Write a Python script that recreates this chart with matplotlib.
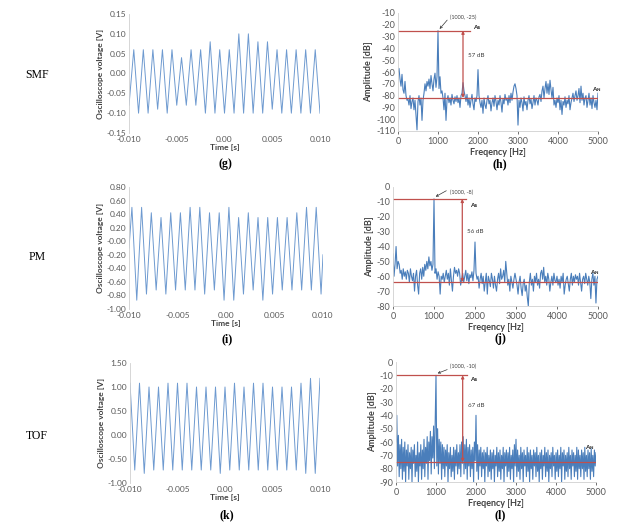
import matplotlib
matplotlib.use("Agg")
import matplotlib.pyplot as plt
import numpy as np

plt.rcParams["axes.unicode_minus"] = False

# ---- time-domain signals: peak / trough values per cycle (V) ----
g_start, g_end = -0.08, -0.10
g_peaks = [0.06, 0.06, 0.06, 0.06, 0.06, 0.04, 0.06, 0.06, 0.08, 0.06,
           0.06, 0.10, 0.10, 0.08, 0.08, 0.06, 0.06, 0.06, 0.06, 0.06]
g_troughs = [-0.10, -0.10, -0.09, -0.10, -0.08, -0.08, -0.08, -0.10, -0.10, -0.10,
             -0.10, -0.10, -0.10, -0.10, -0.09, -0.10, -0.10, -0.10, -0.10]

i_start, i_end = -0.10, -0.20
i_peaks = [0.50, 0.50, 0.42, 0.35, 0.42, 0.42, 0.50, 0.50, 0.42, 0.42,
           0.50, 0.35, 0.42, 0.35, 0.35, 0.35, 0.35, 0.42, 0.50, 0.50]
i_troughs = [-0.87, -0.78, -0.72, -0.78, -0.72, -0.72, -0.72, -0.78, -0.72, -0.87,
             -0.87, -0.78, -0.72, -0.87, -0.78, -0.72, -0.72, -0.72, -0.72, -0.78]

k_peaks = [1.08, 1.08, 1.00, 1.00, 1.08, 1.08, 1.08, 1.00, 1.00, 1.00, 1.00,
           1.08, 1.00, 1.08, 1.08, 1.00, 1.00, 1.00, 1.08, 1.18, 1.18]
k_troughs = [-0.73, -0.80, -0.73, -0.73, -0.73, -0.73, -0.73, -0.73, -0.73, -0.80,
             -0.73, -0.73, -0.73, -0.73, -0.73, -0.73, -0.73, -0.73, -0.80, -0.80]

# ---- spectra (dB) ----
h_db = [-60, -57, -66, -72, -62, -75, -78, -68, -80, -84,
        -83, -88, -80, -91, -85, -82, -92, -84, -96, -109,
        -85, -80, -88, -82, -101, -84, -78, -70, -76, -68,
        -72, -66, -74, -63, -70, -76, -66, -61, -73, -64,
        -25, -74, -64, -78, -76, -82, -92, -78, -101, -84,
        -80, -86, -82, -88, -79, -84, -87, -81, -85, -80,
        -86, -82, -90, -80, -78, -69, -76, -80, -85, -79,
        -88, -82, -90, -84, -79, -87, -92, -82, -85, -80,
        -58, -80, -86, -90, -84, -95, -82, -88, -91, -84,
        -80, -87, -84, -93, -86, -82, -89, -80, -85, -92,
        -84, -88, -80, -86, -94, -83, -87, -79, -84, -82,
        -88, -80, -86, -78, -84, -77, -72, -70, -74, -80,
        -105, -84, -90, -82, -86, -93, -81, -88, -85, -92,
        -84, -80, -87, -83, -91, -86, -80, -88, -82, -84,
        -88, -81, -79, -85, -76, -72, -82, -74, -68, -78,
        -70, -79, -67, -75, -82, -73, -88, -84, -90, -82,
        -86, -80, -92, -84, -96, -85, -88, -81, -90, -84,
        -87, -80, -92, -86, -82, -78, -85, -80, -76, -84,
        -80, -74, -86, -72, -84, -78, -88, -82, -80, -90,
        -84, -78, -88, -82, -91, -80, -86, -90, -84, -92,
        -78]

j_db = [-45, -60, -52, -40, -55, -50, -52, -58, -56, -62,
        -55, -60, -57, -62, -56, -58, -64, -55, -60, -63,
        -58, -70, -60, -56, -66, -72, -58, -55, -62, -54,
        -60, -52, -56, -50, -55, -47, -53, -50, -56, -52,
        -8, -58, -55, -62, -57, -60, -72, -60, -62, -58,
        -64, -60, -56, -62, -58, -66, -55, -63, -70, -60,
        -54, -58, -56, -60, -55, -58, -66, -62, -58, -64,
        -60, -56, -63, -58, -65, -59, -61, -57, -63, -56,
        -37, -58, -62, -60, -68, -62, -58, -65, -60, -70,
        -64, -58, -72, -60, -63, -67, -58, -62, -68, -60,
        -66, -70, -62, -58, -65, -55, -62, -60, -56, -64,
        -50, -58, -66, -62, -70, -60, -64, -68, -62, -58,
        -62, -66, -72, -64, -60, -68, -73, -65, -62, -70,
        -66, -74, -80, -64, -58, -66, -62, -70, -60, -64,
        -58, -66, -62, -68, -58, -56, -62, -54, -64, -60,
        -66, -58, -62, -70, -64, -60, -66, -58, -63, -64,
        -60, -66, -62, -68, -60, -64, -58, -72, -66, -62,
        -60, -65, -70, -62, -58, -66, -60, -64, -59, -62,
        -60, -66, -58, -64, -70, -62, -60, -65, -58, -62,
        -66, -60, -64, -75, -62, -58, -66, -60, -78, -62,
        -60]

l_db = [-60, -40, -78, -55, -86, -62, -80, -58, -88, -64,
        -82, -60, -90, -66, -78, -62, -88, -68, -80, -64,
        -90, -66, -76, -62, -86, -70, -82, -60, -90, -68,
        -78, -62, -88, -66, -80, -58, -86, -64, -76, -56,
        -88, -60, -74, -52, -84, -56, -72, -48, -80, -45,
        -10, -78, -50, -84, -58, -76, -60, -88, -62, -80,
        -64, -86, -66, -78, -62, -90, -68, -80, -64, -86,
        -70, -82, -64, -88, -66, -78, -62, -84, -68, -80,
        -62, -86, -60, -76, -56, -84, -62, -80, -58, -88,
        -64, -78, -62, -86, -66, -80, -64, -90, -60, -74,
        -40, -82, -62, -88, -66, -78, -64, -86, -68, -80,
        -66, -90, -68, -78, -64, -86, -70, -82, -66, -88,
        -68, -80, -66, -90, -70, -78, -64, -86, -68, -82,
        -66, -88, -70, -80, -64, -90, -68, -78, -66, -86,
        -68, -82, -64, -88, -70, -80, -66, -90, -62, -78,
        -58, -86, -66, -82, -70, -88, -64, -80, -68, -90,
        -66, -78, -70, -86, -64, -82, -68, -90, -66, -80,
        -70, -88, -66, -78, -68, -86, -64, -82, -70, -90,
        -68, -80, -66, -88, -70, -78, -64, -86, -68, -82,
        -66, -90, -70, -80, -68, -86, -64, -78, -70, -88,
        -68, -82, -66, -86, -70, -80, -64, -90, -68, -78,
        -66, -88, -70, -82, -68, -86, -64, -80, -70, -88,
        -66, -78, -68, -86, -70, -82, -64, -88, -66, -80,
        -70, -86, -66, -80, -68, -88, -64, -82, -70, -86,
        -66, -80, -68, -88, -65, -82, -70, -86, -66, -78,
        -68]

# marker levels: (peak freq, peak dB, noise dB, diff label)
h_mark = (1000, -25, -82, "57 dB")
j_mark = (1000, -8, -64, "56 dB")
l_mark = (1000, -10, -75, "67 dB")

time_ticks = [-0.010, -0.005, 0.0, 0.005, 0.010]
time_ticklabels = ["-0.010", "-0.005", "0.00", "0.005", "0.010"]
freq_ticks = [0, 1000, 2000, 3000, 4000, 5000]
row_names = ["SMF", "PM", "TOF"]

LINE_T = "#6E9AD0"
LINE_F = "#4A7EBB"
RED = "#C0504D"
TXT = "#595959"
GRID = "#D0D0D0"
FONT = "Lato"


def build_wave(t0, peaks, troughs, start=None, end=None):
    vals = []
    for n, p in enumerate(peaks):
        vals.append(p)
        if n < len(troughs):
            vals.append(troughs[n])
    t = t0 + 0.0005 * np.arange(len(vals))
    if start is not None:
        t = np.concatenate([[-0.010], t])
        vals = [start] + vals
    if end is not None:
        t = np.concatenate([t, [0.010]])
        vals = vals + [end]
    return t, np.array(vals)


def style_time(ax, ylim, yticks, yfmt):
    ax.set_xlim(-0.010, 0.010)
    ax.set_ylim(*ylim)
    ax.set_xticks(time_ticks)
    ax.set_xticklabels(time_ticklabels)
    ax.set_yticks(yticks)
    ax.set_yticklabels([yfmt.format(v) for v in yticks])
    for s in ["top", "right", "bottom"]:
        ax.spines[s].set_visible(False)
    ax.spines["left"].set_color(GRID)
    ax.spines["left"].set_linewidth(0.6)
    ax.tick_params(length=0, labelsize=6, colors=TXT, pad=2)
    for lab in ax.get_xticklabels() + ax.get_yticklabels():
        lab.set_fontfamily(FONT)
    ax.set_xlabel("Time [s]", fontsize=6, fontweight="bold", color="#404040",
                  family=FONT, labelpad=1)
    ax.set_ylabel("Oscilloscope voltage [V]", fontsize=6, fontweight="bold",
                  color="#404040", family=FONT, labelpad=2)


def spectrum(ax, f, db, ylim, mark, xvert, xtop, txt_pos, arr_from,
             as_pos, diff_pos, an_pos):
    ax.plot(f, db, color=LINE_F, lw=0.8)
    pf, pdb, ndb, diff = mark
    ax.plot([0, xtop], [pdb, pdb], color=RED, lw=0.9)
    ax.plot([0, 5000], [ndb, ndb], color=RED, lw=0.9)
    ax.annotate("", xy=(xvert, pdb), xytext=(xvert, ndb),
                arrowprops=dict(arrowstyle="<|-|>", color=RED, lw=0.9,
                                mutation_scale=4, shrinkA=0, shrinkB=0))
    ax.annotate("", xy=(pf + 40, pdb + 1.5), xytext=arr_from,
                arrowprops=dict(arrowstyle="->", color="#333333", lw=0.5,
                                mutation_scale=4, shrinkA=0, shrinkB=0))
    ax.text(txt_pos[0], txt_pos[1], "({}, {})".format(pf, pdb), fontsize=4,
            color="#404040", family=FONT, va="center")
    ax.text(as_pos[0], as_pos[1], "As", fontsize=4.5, fontweight="bold",
            color="#202020", family=FONT, va="center")
    ax.text(diff_pos[0], diff_pos[1], diff, fontsize=4.5, color="#404040",
            family=FONT, va="center")
    ax.text(an_pos[0], an_pos[1], "A$_\\mathregular{N}$", fontsize=4.5,
            fontweight="bold", color="#202020", family=FONT, va="center")
    ax.set_xlim(0, 5000)
    ax.set_ylim(*ylim)
    ax.set_xticks(freq_ticks)
    ax.set_yticks(np.arange(ylim[0], ylim[1] + 1, 10))
    for s in ["top", "right"]:
        ax.spines[s].set_visible(False)
    for s in ["left", "bottom"]:
        ax.spines[s].set_color(GRID)
        ax.spines[s].set_linewidth(0.6)
    ax.tick_params(axis="y", length=0)
    ax.tick_params(axis="x", length=2.5, color=GRID, width=0.6)
    ax.tick_params(labelsize=6.5, colors=TXT, pad=2)
    for lab in ax.get_xticklabels() + ax.get_yticklabels():
        lab.set_fontfamily(FONT)
    ax.set_xlabel("Freqency [Hz]", fontsize=6.5, fontweight="bold",
                  color="#404040", family=FONT, labelpad=1)
    ax.set_ylabel("Amplitude [dB]", fontsize=6.5, fontweight="bold",
                  color="#404040", family=FONT, labelpad=2)


fig = plt.figure(figsize=(6.39, 5.29), dpi=100)
W, H = 639.0, 529.0


def px_axes(left, top, right, bottom):
    return fig.add_axes([left / W, 1 - bottom / H, (right - left) / W,
                         (bottom - top) / H])


ax_g = px_axes(129, 14, 320, 133)
ax_h = px_axes(398, 13, 598, 131)
ax_i = px_axes(129, 187, 323, 309)
ax_j = px_axes(393, 187, 598, 306)
ax_k = px_axes(130, 363, 320, 483)
ax_l = px_axes(396, 362, 596, 482)

t, v = build_wave(-0.0095, g_peaks, g_troughs, g_start, g_end)
ax_g.plot(t, v, color=LINE_T, lw=0.7)
style_time(ax_g, (-0.15, 0.15), np.round(np.arange(-0.15, 0.151, 0.05), 2), "{:.2f}")

t, v = build_wave(-0.0097, i_peaks, i_troughs, i_start, i_end)
ax_i.plot(t, v, color=LINE_T, lw=0.7)
style_time(ax_i, (-1.0, 0.8), np.round(np.arange(-1.0, 0.81, 0.2), 2), "{:.2f}")

t, v = build_wave(-0.010, k_peaks, k_troughs)
ax_k.plot(t, v, color=LINE_T, lw=0.7)
style_time(ax_k, (-1.0, 1.5), np.round(np.arange(-1.0, 1.51, 0.5), 2), "{:.2f}")

f25 = np.arange(0, 5001, 25)
f20 = np.arange(0, 5001, 20)
spectrum(ax_h, f25, h_db, (-110, -10), h_mark, 1625, 1790, (1290, -13.5),
         (1230, -16), (1880, -22), (1740, -46), (4860, -75))
spectrum(ax_j, f25, j_db, (-80, 0), j_mark, 1690, 1790, (1380, -4),
         (1300, -2.5), (1870, -12.5), (1800, -30), (4800, -57.5))
spectrum(ax_l, f20, l_db, (-90, 0), l_mark, 1667, 1770, (1350, -3.7),
         (1280, -5.7), (1850, -13), (1790, -32.6), (4720, -64))

for name, y in zip(row_names, [75, 257, 436]):
    fig.text(37 / W, 1 - y / H, name, fontsize=8.5, family="Liberation Serif",
             ha="center", va="center")

for lab, x, y in [("(g)", 225, 164), ("(h)", 500, 164), ("(i)", 227, 339),
                  ("(j)", 500, 339), ("(k)", 227, 515), ("(l)", 500, 515)]:
    fig.text(x / W, 1 - y / H, lab, fontsize=8.5, fontweight="bold",
             family="Liberation Serif", ha="center", va="center")

fig.savefig("out.png", dpi=100, facecolor="white")
